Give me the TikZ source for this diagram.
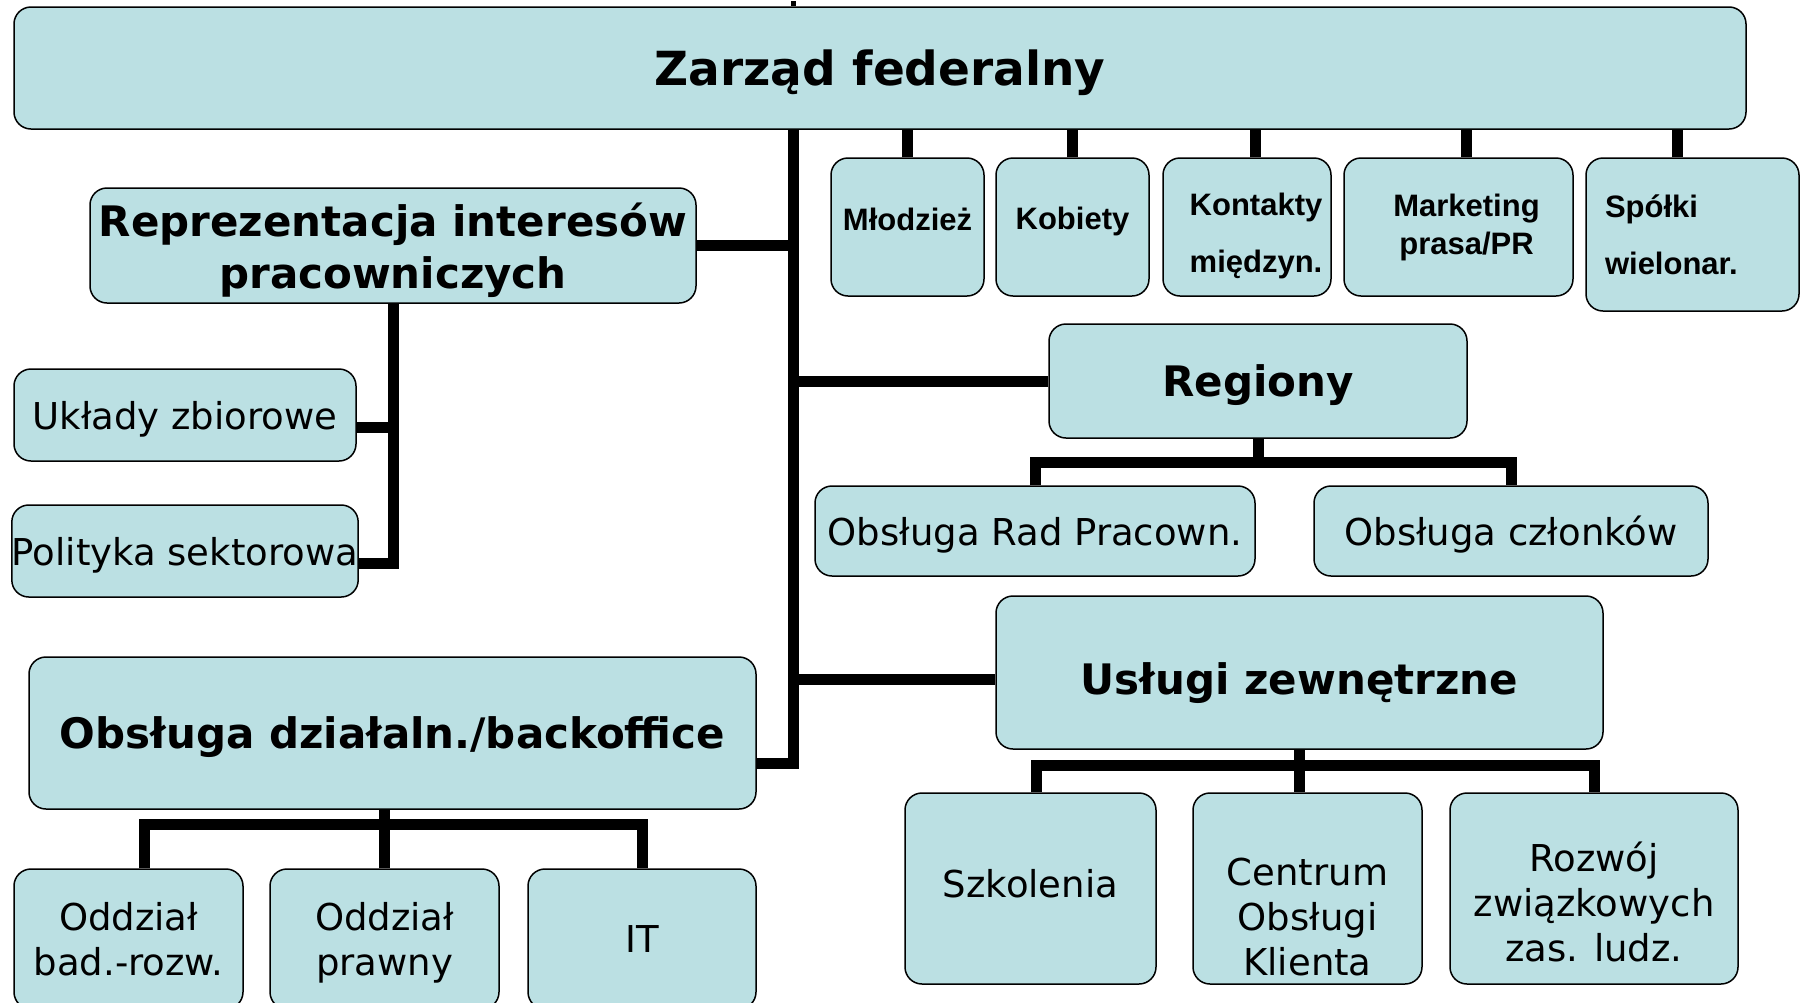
\documentclass[tikz,border=0pt]{standalone}
\usepackage{fontspec}
\setmainfont{DejaVu Sans}
\newfontfamily\arialfont{Liberation Sans}
\definecolor{boxblue}{RGB}{187,224,227}
\tikzset{
  box/.style={draw=black, line width=1.5pt, fill=boxblue, rounded corners=17pt, inner sep=0pt, align=center},
  link/.style={line width=11pt},
  headtxt/.style={font=\fontsize{42}{52}\selectfont\bfseries, text depth=0pt},
  normtxt/.style={font=\fontsize{37}{45}\selectfont, text depth=0pt},
  smalltxt/.style={font=\arialfont\fontsize{31}{38}\selectfont\bfseries},
}
\begin{document}
\begin{tikzpicture}[x=1pt,y=-1pt]
    \useasboundingbox (0,0) rectangle (1804,1002);

    % zarzad
    \node[box, minimum width=1732, minimum height=122, font=\fontsize{47}{56}\selectfont\bfseries, text depth=0pt] (top) at (880,68) {Zarząd federalny};

    % lewa strona
    \node[box, headtxt, minimum width=606, minimum height=115] (rep) at (393,245.5) {Reprezentacja interesów\\pracowniczych};
    \node[box, normtxt, minimum width=342, minimum height=92] (uklady) at (185,415) {Układy zbiorowe};
    \node[box, normtxt, minimum width=342, minimum height=92] (polityka) at (185,551) {Polityka sektorowa};

    \node[box, headtxt, minimum width=727, minimum height=152] (backoff) at (392.5,733) {Obsługa działaln./backoffice};
    \node[box, normtxt, minimum width=229, minimum height=140] (badroz) at (128.5,939) {Oddział\\bad.-rozw.};
    \node[box, normtxt, minimum width=229, minimum height=140] (prawny) at (384.5,939) {Oddział\\prawny};
    \node[box, normtxt, minimum width=228, minimum height=140] (it) at (642,939) {IT};

    % male pola pod zarzadem
    \node[box, smalltxt, minimum width=153, minimum height=138] (mlodziez) at (907.5,227) {\raisebox{8pt}[\height][\depth]{Młodzież}};
    \node[box, smalltxt, minimum width=153, minimum height=138] (kobiety) at (1072.5,227) {\raisebox{6pt}[\height][\depth]{Kobiety}};
    \node[box, minimum width=168, minimum height=138] (kontakty) at (1247,227) {};
    \node[smalltxt, align=center] (kontaktytxt) at (1256,236) {Kontakty\\[19pt]międzyn.};
    \node[box, smalltxt, minimum width=229, minimum height=138] (marketing) at (1458.5,227) {\hspace*{16pt}Marketing\\\hspace*{16pt}prasa/PR};
    \node[box, smalltxt, align=left, text width=175, minimum width=213, minimum height=153] (spolki) at (1692.5,234.5) {Spółki\\[19pt]wielonar.};

    % regiony
    \node[box, headtxt, minimum width=418, minimum height=114] (regiony) at (1258,381) {Regiony};
    \node[box, normtxt, minimum width=440, minimum height=90] (rady) at (1035,531) {Obsługa Rad Pracown.};
    \node[box, normtxt, minimum width=394, minimum height=90] (czlonkowie) at (1511,531) {Obsługa członków};

    % uslugi
    \node[box, headtxt, minimum width=607, minimum height=153] (uslugi) at (1299.5,672.5) {\raisebox{-6pt}[\height][\depth]{Usługi zewnętrzne}};
    \node[box, normtxt, minimum width=251, minimum height=191] (szkolenia) at (1030.5,888.5) {\raisebox{5pt}[\height][\depth]{Szkolenia}};
    \node[box, minimum width=229, minimum height=191] (centrum) at (1307.5,888.5) {};
    \node[normtxt, align=center] (centrumtxt) at (1307.5,917) {Centrum\\Obsługi\\Klienta};
    \node[box, minimum width=288, minimum height=191] (rozwoj) at (1594,888.5) {};
    \node[normtxt, align=center] (rozwojtxt) at (1594,902) {Rozwój\\związkowych\\zas. ludz.};

    % linie
    \coordinate (trunk) at (793,763);
    \draw[line width=5pt] (top.north -| trunk) -- ++(0,-5);
    \draw[link] (top.south -| trunk) -- (trunk) -- (trunk -| backoff.east);
    \draw[link] (rep.east) -- (rep.east -| trunk);
    \draw[link] (regiony.west) -- (regiony.west -| trunk);
    \draw[link] ([yshift=-7pt]uslugi.west) -- ([yshift=-7pt]uslugi.west -| trunk);

    \draw[link] (mlodziez.north) -- (mlodziez.north |- top.south);
    \draw[link] (kobiety.north) -- (kobiety.north |- top.south);
    \draw[link] ([xshift=8pt]kontakty.north) -- ([xshift=8pt]kontakty.north |- top.south);
    \draw[link] ([xshift=8pt]marketing.north) -- ([xshift=8pt]marketing.north |- top.south);
    \draw[link] ([xshift=-15pt]spolki.north) -- ([xshift=-15pt]spolki.north |- top.south);

    \draw[link] (rep.south) |- ([yshift=-12pt]polityka.east);
    \draw[link] ([yshift=-12pt]uklady.east) -- ([yshift=-12pt]uklady.east -| rep.south);

    \coordinate (regbus) at (1258,462);
    \draw[link] (regiony.south) -- (regbus);
    \draw[link] (rady.north) |- (regbus) -| (czlonkowie.north);

    \coordinate (uslbus) at (1299.5,765);
    \draw[link] (uslugi.south) -- (uslugi.south |- centrum.north);
    \draw[link] ([xshift=6pt]szkolenia.north) |- (uslbus) -| (rozwoj.north);

    \coordinate (backbus) at (392.5,824);
    \draw[link] (prawny.north) -- (prawny.north |- backoff.south);
    \draw[link] ([xshift=16pt]badroz.north) |- (backbus) -| (it.north);
\end{tikzpicture}
\end{document}
